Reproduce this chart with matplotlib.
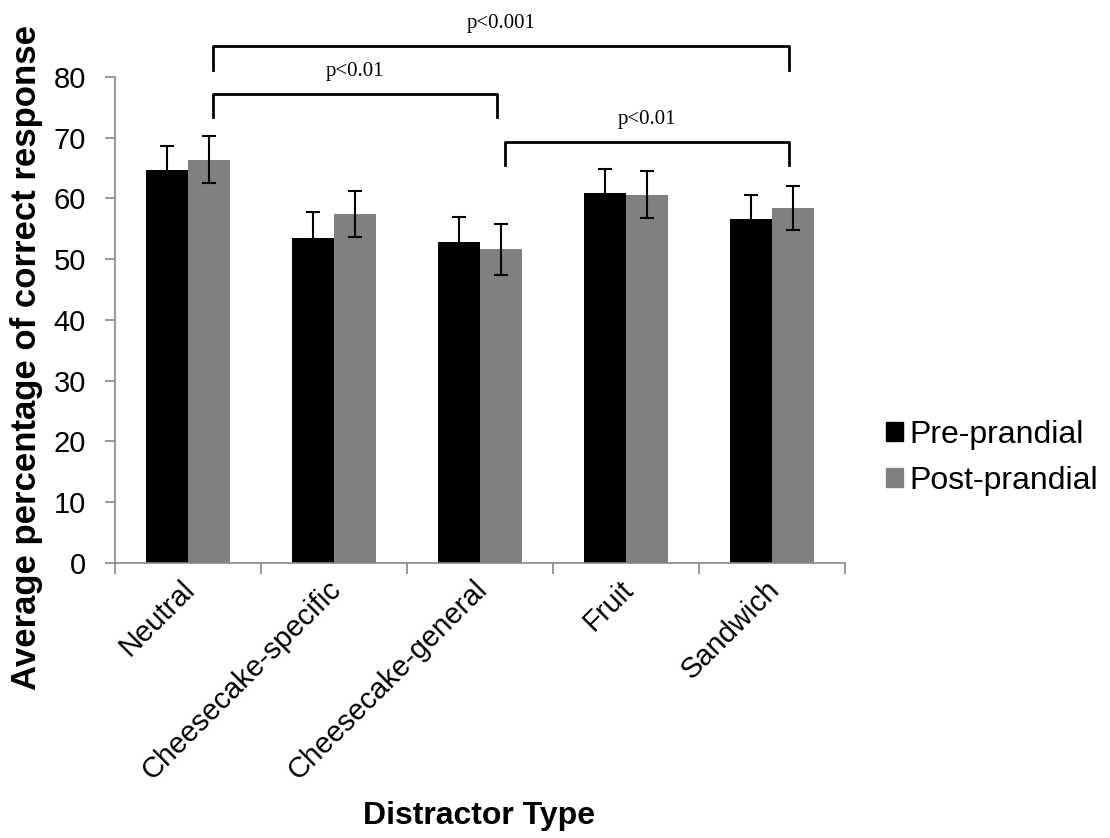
import numpy as np
import matplotlib.pyplot as plt
import matplotlib.transforms as mtrans
from matplotlib.patches import Patch

categories = ['Neutral', 'Cheesecake-specific', 'Cheesecake-general', 'Fruit', 'Sandwich']
pre = [64.6, 53.5, 52.9, 60.9, 56.6]
post = [66.4, 57.5, 51.6, 60.6, 58.4]
pre_err = [4.1, 4.2, 4.0, 4.0, 4.0]
post_err = [3.8, 3.8, 4.2, 3.9, 3.6]

# brackets: (from group, to group, bracket top, leg bottom, label)
brackets = [(0, 4, 85.1, 81.2, 'p<0.001'),
            (0, 2, 77.2, 73.4, 'p<0.01'),
            (2, 4, 69.3, 65.5, 'p<0.01')]

plt.rcParams['font.family'] = ['Liberation Sans', 'DejaVu Sans']

fig = plt.figure(figsize=(11.1, 8.38), dpi=100)
ax = fig.add_axes([0.1036, 0.3282, 0.6577, 0.5800])

x = np.arange(len(categories))
w = 0.287
ax.bar(x - w/2, pre, w, color='black', label='Pre-prandial')
ax.bar(x + w/2, post, w, color='#808080', label='Post-prandial')
ax.errorbar(x - w/2, pre, yerr=pre_err, fmt='none', ecolor='black', elinewidth=1.5, capsize=5, capthick=1.5)
ax.errorbar(x + w/2, post, yerr=post_err, fmt='none', ecolor='black', elinewidth=1.5, capsize=5, capthick=1.5)

for a, b, top, bot, lab in brackets:
    xa, xb = a + w/2 + 0.03, b + w/2 - 0.03
    ax.plot([xa, xa, xb, xb], [bot, top, top, bot], color='black', lw=2, clip_on=False)
    ax.text((xa + xb) / 2, top + 2.2, lab, ha='center', va='bottom',
            family='Liberation Serif', fontsize=15)

ax.set_xlim(-0.5, 4.5)
ax.set_ylim(0, 80)
ax.set_yticks(range(0, 81, 10))
ax.tick_params(axis='y', labelsize=21, direction='out', length=7, color='#878787', width=1.2, pad=14)
ax.set_xticks(x)
ax.set_xticklabels(categories, rotation=45, ha='right', rotation_mode='anchor', fontsize=21)
ax.tick_params(axis='x', length=0, pad=9)
shift = mtrans.ScaledTranslation(-7/100, 0, fig.dpi_scale_trans)
for lbl in ax.get_xticklabels():
    lbl.set_transform(lbl.get_transform() + shift)
ax.set_xticks(np.arange(-0.5, 4.6, 1), minor=True)
ax.tick_params(axis='x', which='minor', length=8, color='#878787', width=1.2, direction='out')

for s in ['top', 'right']:
    ax.spines[s].set_visible(False)
for s in ['left', 'bottom']:
    ax.spines[s].set_color('#878787')
    ax.spines[s].set_linewidth(1.2)

fig.text(0.024, 0.573, 'Average percentage of correct response', rotation=90,
         ha='center', va='center', fontsize=25, fontweight='bold')
fig.text(0.4315, 0.026, 'Distractor Type', ha='center', va='center', fontsize=23, fontweight='bold')

handles = [Patch(color='black'), Patch(color='#808080')]
fig.legend(handles, ['Pre-prandial', 'Post-prandial'], loc='center left',
           bbox_to_anchor=(0.798, 0.454), frameon=False, fontsize=23,
           borderpad=0, borderaxespad=0,
           handlelength=0.53, handleheight=0.53, handletextpad=0.22, labelspacing=0.5)

plt.savefig('out.png', dpi=100)
